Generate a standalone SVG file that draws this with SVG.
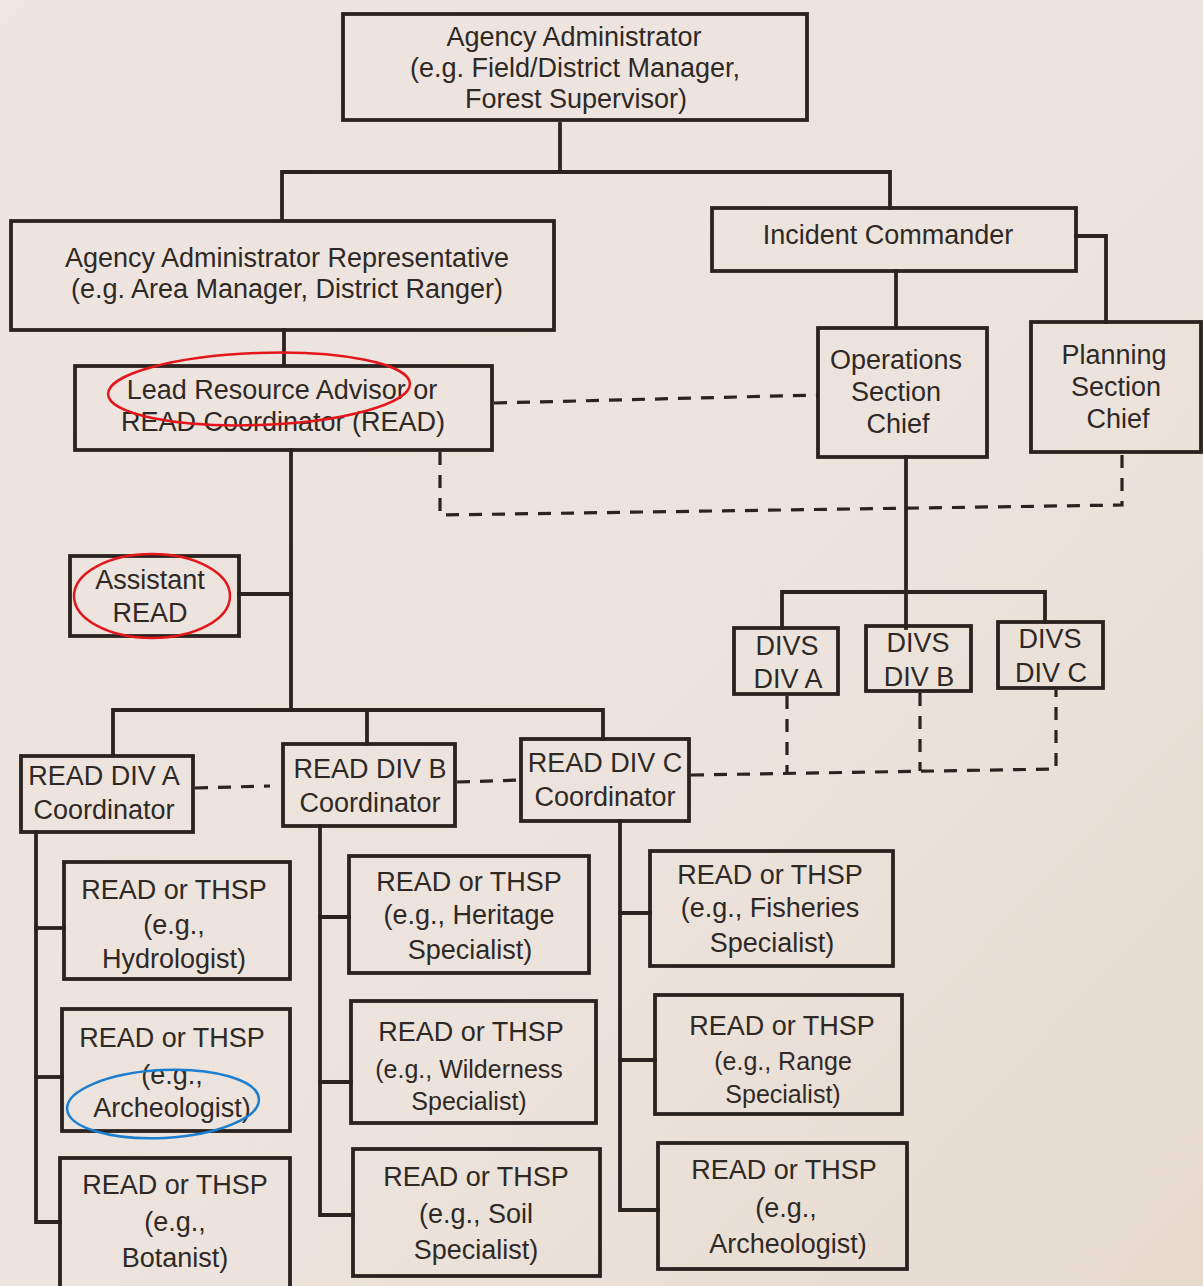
<svg xmlns="http://www.w3.org/2000/svg" width="1203" height="1286" viewBox="0 0 1203 1286">
<defs>
<linearGradient id="bg" x1="0" y1="0" x2="1" y2="1">
<stop offset="0" stop-color="#efe5e1"/>
<stop offset="0.6" stop-color="#ece3dc"/>
<stop offset="1" stop-color="#e6dacd"/>
</linearGradient>
<style>
.box{fill:none;stroke:#2b2320;stroke-width:3.8}
.ln{fill:none;stroke:#2b2320;stroke-width:3.8;stroke-linecap:square}
.dash{fill:none;stroke:#2b2320;stroke-width:3.2;stroke-dasharray:13 10}
text{font-family:"Liberation Sans",Arial,sans-serif;font-size:27px;fill:#2f2926;text-anchor:middle}
.rt{font-size:27px}
.sm{font-size:25px}
.red{fill:none;stroke:#e3161b;stroke-width:2.5}
.blue{fill:none;stroke:#1a7fd0;stroke-width:2.5}
</style>
</defs>
<rect width="1203" height="1286" fill="url(#bg)"/>

<g id="connectors">
<polyline class="ln" points="560,124 560,172"/>
<polyline class="ln" points="282,218 282,172 890,172 890,208"/>
<polyline class="ln" points="1076,236 1106,236 1106,322"/>
<polyline class="ln" points="896,271 896,327"/>
<polyline class="ln" points="284,330 284,364"/>
<polyline class="ln" points="291,450 291,710"/>
<polyline class="ln" points="239,594 291,594"/>
<polyline class="ln" points="113,755 113,710 603,710 603,739"/>
<polyline class="ln" points="367,710 367,744"/>
<polyline class="ln" points="906,457 906,628"/>
<polyline class="ln" points="782,628 782,592 1045,592 1045,622"/>
<polyline class="ln" points="36,832 36,1222 60,1222"/>
<polyline class="ln" points="36,928 64,928"/>
<polyline class="ln" points="36,1077 62,1077"/>
<polyline class="ln" points="320,826 320,1215 353,1215"/>
<polyline class="ln" points="320,917 349,917"/>
<polyline class="ln" points="320,1082 351,1082"/>
<polyline class="ln" points="620,821 620,1210 658,1210"/>
<polyline class="ln" points="620,913 650,913"/>
<polyline class="ln" points="620,1060 655,1060"/>
<polyline class="dash" points="494,403 818,395"/>
<polyline class="dash" points="440,452 440,515 1122,505 1122,452"/>
<polyline class="dash" points="195,788 270,786"/>
<polyline class="dash" points="457,782 521,780"/>
<polyline class="dash" points="691,775 1056,769 1056,690"/>
<polyline class="dash" points="787,696 787,773"/>
<polyline class="dash" points="920,693 920,771"/>
</g>

<g id="agency-administrator">
<rect class="box" x="343" y="14" width="464" height="106"/>
<text x="574" y="46">Agency Administrator</text>
<text x="575" y="77">(e.g. Field/District Manager,</text>
<text x="576" y="108">Forest Supervisor)</text>
</g>

<g id="agency-administrator-representative">
<rect class="box" x="11" y="221" width="543" height="109"/>
<text x="287" y="267">Agency Administrator Representative</text>
<text x="287" y="298">(e.g. Area Manager, District Ranger)</text>
</g>

<g id="incident-commander">
<rect class="box" x="712" y="208" width="364" height="63"/>
<text x="888" y="244">Incident Commander</text>
</g>

<g id="operations-section-chief">
<rect class="box" x="818" y="328" width="169" height="129"/>
<text x="896" y="369">Operations</text>
<text x="896" y="401">Section</text>
<text x="898" y="433">Chief</text>
</g>

<g id="planning-section-chief">
<rect class="box" x="1031" y="322" width="170" height="130"/>
<text x="1114" y="364">Planning</text>
<text x="1116" y="396">Section</text>
<text x="1118" y="428">Chief</text>
</g>

<g id="lead-resource-advisor">
<rect class="box" x="75" y="366" width="417" height="84"/>
<text x="282" y="399">Lead Resource Advisor or</text>
<text x="283" y="431">READ Coordinator (READ)</text>
<ellipse class="red" cx="259" cy="389" rx="151" ry="36" transform="rotate(-2 259 389)"/>
</g>

<g id="assistant-read">
<rect class="box" x="70" y="556" width="169" height="80"/>
<text x="150" y="589">Assistant</text>
<text x="150" y="622">READ</text>
<ellipse class="red" cx="152" cy="596" rx="78" ry="42"/>
</g>

<g id="divs-div-a">
<rect class="box" x="734" y="628" width="104" height="66"/>
<text class="rt" x="787" y="655">DIVS</text>
<text class="rt" x="788" y="688">DIV A</text>
</g>
<g id="divs-div-b">
<rect class="box" x="866" y="626" width="105" height="65"/>
<text class="rt" x="918" y="652">DIVS</text>
<text class="rt" x="919" y="686">DIV B</text>
</g>
<g id="divs-div-c">
<rect class="box" x="998" y="622" width="105" height="66"/>
<text class="rt" x="1050" y="648">DIVS</text>
<text class="rt" x="1051" y="682">DIV C</text>
</g>

<g id="read-div-a">
<rect class="box" x="21" y="756" width="172" height="76"/>
<text x="104" y="785">READ DIV A</text>
<text x="104" y="819">Coordinator</text>
</g>
<g id="read-div-b">
<rect class="box" x="283" y="744" width="172" height="82"/>
<text x="370" y="778">READ DIV B</text>
<text x="370" y="812">Coordinator</text>
</g>
<g id="read-div-c">
<rect class="box" x="521" y="739" width="168" height="82"/>
<text x="605" y="772">READ DIV C</text>
<text x="605" y="806">Coordinator</text>
</g>

<g id="thsp-hydrologist">
<rect class="box" x="64" y="862" width="226" height="117"/>
<text class="rt" x="174" y="899">READ or THSP</text>
<text class="rt" x="174" y="934">(e.g.,</text>
<text class="rt" x="174" y="968">Hydrologist)</text>
</g>
<g id="thsp-archeologist-a">
<rect class="box" x="62" y="1009" width="228" height="122"/>
<text class="rt" x="172" y="1047">READ or THSP</text>
<text class="rt" x="172" y="1084">(e.g.,</text>
<text class="rt" x="172" y="1117">Archeologist)</text>
<ellipse class="blue" cx="163" cy="1104" rx="96" ry="34" transform="rotate(-3 163 1104)"/>
</g>
<g id="thsp-botanist">
<rect class="box" x="60" y="1158" width="230" height="130"/>
<text class="rt" x="175" y="1194">READ or THSP</text>
<text class="rt" x="175" y="1231">(e.g.,</text>
<text class="rt" x="175" y="1267">Botanist)</text>
</g>

<g id="thsp-heritage">
<rect class="box" x="349" y="856" width="240" height="117"/>
<text class="rt" x="469" y="891">READ or THSP</text>
<text class="rt" x="469" y="924">(e.g., Heritage</text>
<text class="rt" x="470" y="959">Specialist)</text>
</g>
<g id="thsp-wilderness">
<rect class="box" x="351" y="1001" width="245" height="122"/>
<text class="rt" x="471" y="1041">READ or THSP</text>
<text class="sm" x="469" y="1078">(e.g., Wilderness</text>
<text class="sm" x="469" y="1110">Specialist)</text>
</g>
<g id="thsp-soil">
<rect class="box" x="353" y="1149" width="247" height="127"/>
<text class="rt" x="476" y="1186">READ or THSP</text>
<text class="rt" x="476" y="1223">(e.g., Soil</text>
<text class="rt" x="476" y="1259">Specialist)</text>
</g>

<g id="thsp-fisheries">
<rect class="box" x="650" y="851" width="243" height="115"/>
<text class="rt" x="770" y="884">READ or THSP</text>
<text class="rt" x="770" y="917">(e.g., Fisheries</text>
<text class="rt" x="772" y="952">Specialist)</text>
</g>
<g id="thsp-range">
<rect class="box" x="655" y="995" width="247" height="119"/>
<text class="rt" x="782" y="1035">READ or THSP</text>
<text class="sm" x="783" y="1070">(e.g., Range</text>
<text class="sm" x="783" y="1103">Specialist)</text>
</g>
<g id="thsp-archeologist-c">
<rect class="box" x="658" y="1143" width="249" height="126"/>
<text class="rt" x="784" y="1179">READ or THSP</text>
<text class="rt" x="786" y="1217">(e.g.,</text>
<text class="rt" x="788" y="1253">Archeologist)</text>
</g>
</svg>
